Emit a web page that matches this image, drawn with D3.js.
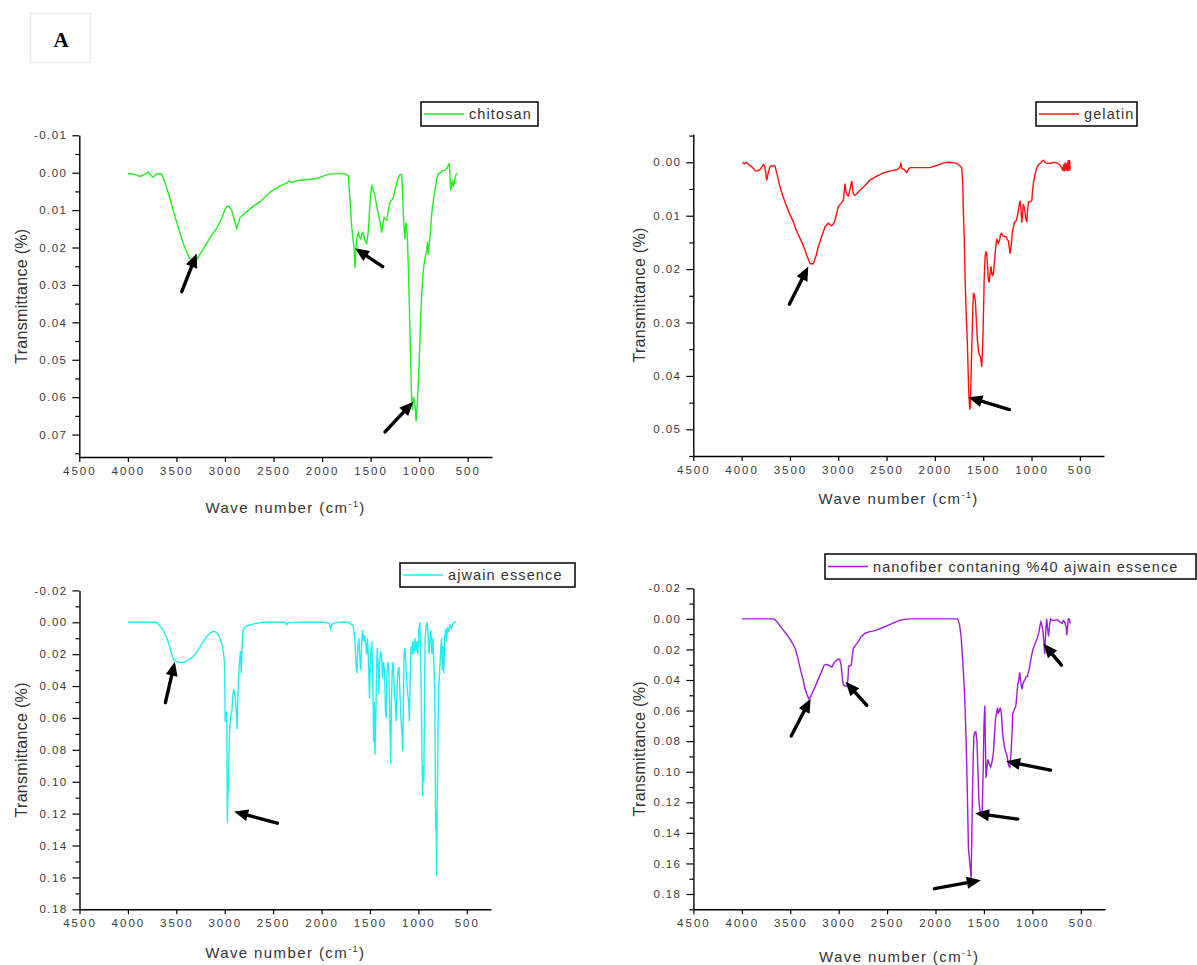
<!DOCTYPE html>
<html>
<head>
<meta charset="utf-8">
<script src="https://cdn.jsdelivr.net/npm/d3@7"></script>
<style>
  html, body { margin: 0; padding: 0; background: #fff; }
  svg { display: block; }
  text { font-family: "Liberation Sans", Arial, sans-serif; }
</style>
</head>
<body>
<svg id="chart" width="1197" height="965"></svg>
<script>
// ---------------- DATA ----------------
const legendLabels = ["chitosan", "gelatin", "ajwain essence", "nanofiber contaning %40 ajwain essence"];
const xTickValues = [4500, 4000, 3500, 3000, 2500, 2000, 1500, 1000, 500];
const xTitle = "Wave number (cm";
const yTitle = "Transmittance (%)";
const panelLetter = "A";

const yTicksChitosan = [-0.01, 0.00, 0.01, 0.02, 0.03, 0.04, 0.05, 0.06, 0.07];
const yTicksGelatin = [0.00, 0.01, 0.02, 0.03, 0.04, 0.05];
const yTicksAjwain = [-0.02, 0.00, 0.02, 0.04, 0.06, 0.08, 0.10, 0.12, 0.14, 0.16, 0.18];
const yTicksNanofiber = [-0.02, 0.00, 0.02, 0.04, 0.06, 0.08, 0.10, 0.12, 0.14, 0.16, 0.18];

// [wave number, transmittance]
const chitosan = [
[4000,0.0003],[3975,0.0002],[3944,0.0004],[3920,0.0006],[3875,0.001],[3840,0.0006],[3810,0.0002],[3789,-0.0002],[3760,0.0008],[3738,0.0012],[3710,0.0004],[3680,0.0002],[3651,0.0004],
[3620,0.0025],[3583,0.0055],[3550,0.0085],[3514,0.0118],[3470,0.0155],[3429,0.0189],[3395,0.021],[3367,0.0229],[3330,0.0234],[3291,0.0233],[3250,0.0215],[3188,0.0189],[3140,0.0168],[3085,0.0149],[3040,0.0125],[3000,0.0098],[2982,0.0091],[2960,0.0089],[2931,0.0100],[2905,0.0125],[2879,0.0149],[2862,0.0135],[2845,0.012],[2776,0.0104],[2700,0.0088],[2639,0.0078],[2570,0.006],[2502,0.0046],[2430,0.0035],[2364,0.0028],[2340,0.0022],[2320,0.0026],[2227,0.002],[2150,0.0018],[2055,0.0016],[1990,0.0009],[1918,0.0003],[1850,0.0003],[1760,0.0003],[1730,0.0008],
[1710,0.008],[1695,0.0144],[1680,0.018],[1671,0.0198],[1661,0.0256],[1650,0.02],[1640,0.017],[1627,0.016],[1615,0.0172],[1603,0.0177],[1590,0.0162],[1580,0.016],[1560,0.018],[1540,0.019],[1525,0.016],[1513,0.011],[1500,0.006],[1489,0.0033],[1470,0.0048],[1455,0.0062],[1440,0.0085],[1421,0.011],[1400,0.0135],[1386,0.016],[1375,0.014],[1362,0.012],[1345,0.0125],[1334,0.0127],[1318,0.010],[1300,0.0079],[1280,0.0072],[1266,0.0066],[1250,0.0048],[1231,0.0027],[1210,0.001],[1197,0.0005],[1180,0.0005],[1170,0.006],[1163,0.0109],[1155,0.0150],[1146,0.0178],[1140,0.0145],[1135,0.0133],[1128,0.0155],[1122,0.017],[1112,0.025],[1101,0.036],[1090,0.048],[1077,0.0608],[1068,0.0635],[1060,0.06],[1050,0.061],[1043,0.062],[1032,0.0664],[1020,0.062],[1009,0.0564],[995,0.047],[985,0.039],[974,0.0325],[960,0.027],[945,0.0235],[930,0.0215],[922,0.021],[915,0.0185],[905,0.022],[895,0.019],[885,0.016],[871,0.011],[855,0.0075],[837,0.0046],[820,0.0018],[803,0.0003],[780,0.0],[760,-0.0006],[734,-0.0007],[715,-0.0012],[700,-0.002],[690,-0.0026],[682,0.001],[675,0.0047],[665,0.003],[655,0.0023],[648,0.0035],[640,0.003],[630,0.0012],[620,0.0005],[605,0.0002]
];

const gelatin = [
[3990,0.0],[3975,0.0003],[3950,0.0],[3930,0.0004],[3900,0.0008],[3875,0.0012],[3861,0.0016],[3840,0.0016],[3810,0.0014],[3790,0.0008],[3775,0.0004],[3760,0.0008],[3740,0.0034],[3725,0.002],[3706,0.0008],[3680,0.0006],[3654,0.0007],[3630,0.0025],[3603,0.0046],[3570,0.0065],[3533,0.0083],[3500,0.0098],[3465,0.0111],[3440,0.0125],[3413,0.0136],[3378,0.0149],[3350,0.0162],[3326,0.0174],[3300,0.0186],[3292,0.019],[3258,0.019],[3230,0.0175],[3206,0.0158],[3170,0.0138],[3137,0.0121],[3103,0.0114],[3085,0.0117],[3068,0.0119],[3050,0.0115],[3033,0.0108],[3015,0.0095],[2999,0.0083],[2970,0.0077],[2947,0.0071],[2938,0.0055],[2930,0.004],[2920,0.0055],[2912,0.006],[2895,0.0063],[2878,0.005],[2861,0.0035],[2852,0.0048],[2843,0.006],[2826,0.0062],[2800,0.0057],[2774,0.0052],[2720,0.0043],[2671,0.0033],[2600,0.0026],[2533,0.002],[2460,0.0016],[2395,0.0014],[2365,0.0010],[2353,0.0003],[2340,0.0012],[2320,0.0013],[2291,0.0019],[2270,0.0012],[2257,0.001],[2150,0.001],[2050,0.001],[1980,0.0006],[1912,0.0001],[1850,0.0],[1800,0.0001],[1773,0.0002],[1745,0.0006],[1722,0.001],[1712,0.004],[1705,0.0093],[1695,0.015],[1687,0.022],[1675,0.029],[1664,0.0339],[1656,0.039],[1649,0.0433],[1642,0.0455],[1636,0.0463],[1628,0.042],[1619,0.035],[1610,0.029],[1601,0.0245],[1590,0.025],[1581,0.026],[1570,0.03],[1560,0.0333],[1548,0.0355],[1540,0.036],[1528,0.0365],[1515,0.0383],[1505,0.034],[1498,0.0289],[1490,0.022],[1480,0.0175],[1472,0.0168],[1464,0.017],[1455,0.0195],[1447,0.022],[1438,0.0225],[1430,0.021],[1420,0.0195],[1410,0.021],[1402,0.0212],[1394,0.0207],[1380,0.018],[1370,0.0158],[1359,0.0143],[1345,0.0152],[1332,0.0147],[1320,0.0135],[1309,0.0133],[1295,0.0138],[1274,0.0139],[1260,0.014],[1250,0.0145],[1240,0.0147],[1230,0.016],[1222,0.0171],[1210,0.0155],[1198,0.013],[1187,0.0121],[1175,0.0112],[1160,0.011],[1140,0.0095],[1128,0.008],[1118,0.0072],[1110,0.0085],[1101,0.0113],[1092,0.0095],[1084,0.0078],[1070,0.009],[1060,0.0105],[1049,0.0112],[1040,0.0088],[1032,0.0075],[1015,0.0074],[997,0.0072],[990,0.0055],[980,0.0038],[960,0.002],[945,0.001],[929,0.0005],[910,0.0002],[890,-0.0002],[877,-0.0004],[860,0.0],[843,0.0002],[800,0.0002],[770,0.0],[738,0.0001],[710,0.0004],[686,0.0011],[675,0.0016],[668,0.0004],[660,0.0017],[652,0.0],[645,0.0015],[638,0.0002],[630,0.0016],[620,-0.0004],[612,0.0016],[605,-0.0004],[601,0.0015]
];

const ajwain = [
[4000,0],[3850,0],[3708,0],[3680,0.0015],[3649,0.0038],[3620,0.007],[3591,0.011],[3570,0.015],[3552,0.0195],[3525,0.0236],[3500,0.0245],[3480,0.025],[3450,0.0252],[3417,0.025],[3380,0.0238],[3338,0.0223],[3300,0.0195],[3261,0.016],[3220,0.012],[3183,0.0087],[3150,0.0068],[3117,0.0056],[3090,0.0062],[3066,0.0077],[3045,0.0105],[3027,0.014],[3015,0.018],[3007,0.0223],[3000,0.03],[2996,0.0623],[2988,0.06],[2980,0.056],[2976,0.09],[2973,0.126],[2968,0.11],[2962,0.10],[2955,0.078],[2947,0.065],[2935,0.058],[2925,0.055],[2915,0.045],[2907,0.042],[2898,0.044],[2890,0.048],[2880,0.058],[2872,0.067],[2865,0.05],[2857,0.034],[2847,0.024],[2837,0.018],[2830,0.032],[2820,0.015],[2810,0.005],[2790,0.003],[2760,0.002],[2700,0.001],[2604,0.0],[2500,0.0],[2383,0.0],[2360,0.0015],[2340,0.0002],[2200,0],[2000,0],[1920,0.0005],[1907,0.004],[1895,0.0015],[1860,0.0002],[1800,0],[1732,0],[1700,0.001],
[1673,0.002],[1655,0.012],[1645,0.025],[1635,0.032],[1625,0.015],[1615,0.01],[1605,0.022],[1595,0.03],[1585,0.012],[1575,0.005],[1565,0.012],[1555,0.008],[1545,0.013],[1535,0.02],[1525,0.01],[1515,0.025],[1505,0.048],[1498,0.03],[1490,0.018],[1480,0.012],[1470,0.04],[1462,0.075],[1455,0.05],[1448,0.083],[1440,0.06],[1432,0.03],[1425,0.016],[1415,0.028],[1408,0.045],[1400,0.025],[1390,0.018],[1380,0.022],[1370,0.035],[1360,0.025],[1350,0.03],[1340,0.055],[1332,0.06],[1325,0.035],[1315,0.025],[1305,0.03],[1295,0.06],[1286,0.089],[1278,0.05],[1270,0.03],[1260,0.025],[1250,0.04],[1240,0.05],[1228,0.062],[1220,0.04],[1210,0.03],[1200,0.028],[1190,0.045],[1180,0.06],[1170,0.07],[1162,0.081],[1155,0.05],[1148,0.02],[1140,0.016],[1130,0.025],[1120,0.038],[1110,0.045],[1100,0.05],[1093,0.062],[1085,0.035],[1075,0.015],[1065,0.02],[1055,0.012],[1045,0.02],[1035,0.01],[1025,0.018],[1015,0.012],[1005,0.02],[995,0.005],[985,0.0],[975,0.025],[965,0.07],[957,0.109],[950,0.09],[944,0.1],[937,0.05],[930,0.01],[920,0.002],[910,0.0],[900,0.008],[890,0.02],[880,0.01],[870,0.005],[860,0.02],[850,0.01],[840,0.025],[830,0.045],[822,0.13],[817,0.12],[812,0.159],[806,0.12],[798,0.07],[790,0.04],[782,0.033],[772,0.02],[762,0.01],[752,0.03],[745,0.015],[738,0.032],[728,0.01],[718,0.004],[708,0.012],[698,0.003],[688,0.006],[675,0.002],[660,0.004],[645,0.001],[627,0.0],[612,0.0]
];

const nanofiber = [
[4000,0],[3800,0],[3669,0],[3640,0.0015],[3609,0.0042],[3570,0.0075],[3530,0.0107],[3490,0.0145],[3449,0.0194],[3420,0.026],[3389,0.0347],[3365,0.04],[3349,0.0456],[3330,0.049],[3310,0.0521],[3290,0.051],[3270,0.048],[3240,0.044],[3210,0.0393],[3180,0.035],[3150,0.0303],[3130,0.0298],[3110,0.03],[3090,0.031],[3069,0.0314],[3050,0.029],[3030,0.0275],[3010,0.0265],[2990,0.0263],[2975,0.03],[2960,0.04],[2950,0.0434],[2930,0.044],[2910,0.0435],[2900,0.035],[2898,0.031],[2870,0.0303],[2860,0.025],[2849,0.0194],[2830,0.0175],[2810,0.016],[2790,0.014],[2770,0.0118],[2730,0.0095],[2690,0.0085],[2650,0.008],[2610,0.0074],[2550,0.0058],[2490,0.0042],[2430,0.0025],[2370,0.001],[2320,0.0003],[2270,0],[2080,0],[1900,0],[1771,0],[1760,0.002],[1751,0.0042],[1735,0.012],[1723,0.0236],[1711,0.0357],[1700,0.05],[1691,0.065],[1680,0.09],[1671,0.115],[1660,0.15],[1653,0.155],[1646,0.16],[1638,0.165],[1632,0.17],[1625,0.14],[1620,0.12],[1612,0.095],[1604,0.077],[1594,0.074],[1584,0.074],[1572,0.08],[1562,0.1],[1551,0.12],[1540,0.126],[1530,0.126],[1518,0.126],[1508,0.1],[1500,0.07],[1491,0.0568],[1485,0.08],[1479,0.104],[1470,0.098],[1459,0.092],[1445,0.095],[1431,0.097],[1418,0.094],[1403,0.088],[1390,0.075],[1380,0.065],[1371,0.062],[1360,0.058],[1352,0.062],[1340,0.06],[1330,0.058],[1320,0.062],[1312,0.07],[1304,0.077],[1290,0.083],[1275,0.087],[1260,0.09],[1245,0.096],[1232,0.097],[1220,0.088],[1210,0.075],[1203,0.0618],[1190,0.06],[1171,0.057],[1160,0.05],[1151,0.043],[1140,0.04],[1131,0.035],[1122,0.04],[1115,0.044],[1107,0.046],[1095,0.042],[1079,0.04],[1065,0.038],[1052,0.0378],[1042,0.035],[1032,0.0327],[1020,0.028],[1011,0.025],[995,0.02],[979,0.0175],[965,0.015],[951,0.0131],[940,0.01],[931,0.0087],[920,0.004],[912,0.002],[902,0.004],[892,0.007],[882,0.015],[872,0.023],[862,0.008],[852,0.0],[843,0.006],[833,0.0115],[822,0.004],[812,0.0],[795,0.001],[773,0.001],[750,0.0005],[733,0.001],[715,0.002],[694,0.003],[680,0.001],[665,0.002],[650,0.006],[644,0.0107],[635,0.004],[628,0.0],[620,0.0],[612,0.002],[605,0.003]
];

// annotation arrows: [tail wave number, tail value, head wave number, head value]
const arrowsChitosan = [[3445,0.0318,3291,0.0216],[1376,0.0251,1661,0.0202],[1352,0.0693,1060,0.0612]];
const arrowsGelatin = [[3506,0.0266,3310,0.0195],[1229,0.0463,1654,0.0440]];
const arrowsAjwain = [[3613,0.0504,3515,0.0247],[2457,0.126,2903,0.1187]];
const arrowsNanofiber = [[3490,0.0766,3289,0.0521],[2710,0.0565,2930,0.0412],[700,0.0303,884,0.0162],[812,0.099,1271,0.0931],[1151,0.131,1591,0.1272],[2011,0.1765,1532,0.171]];

// ---------------- LAYOUT ----------------
const panels = [
  { data: chitosan, label: legendLabels[0], color: "#22ee22", arrows: arrowsChitosan,
    yTicks: yTicksChitosan, yDomain: [-0.01, 0.076], minorStep: 0.005,
    xr: [79.3, 492], yr: [135.3, 457],
    legend: { x: 421, y: 102, w: 117, h: 24 }, yTitleX: 22, xTitleY: 513 },
  { data: gelatin, label: legendLabels[1], color: "#ff1010", arrows: arrowsGelatin,
    yTicks: yTicksGelatin, yDomain: [-0.0053, 0.055], minorStep: 0.005,
    xr: [693.3, 1104], yr: [134, 456],
    legend: { x: 1036, y: 102, w: 101, h: 24 }, yTitleX: 640, xTitleY: 504 },
  { data: ajwain, label: legendLabels[2], color: "#22eeee", arrows: arrowsAjwain,
    yTicks: yTicksAjwain, yDomain: [-0.02, 0.18], minorStep: 0.01,
    xr: [79.5, 491], yr: [590.4, 909.3],
    legend: { x: 400, y: 563, w: 175, h: 24 }, yTitleX: 22, xTitleY: 958 },
  { data: nanofiber, label: legendLabels[3], color: "#a01ad8", arrows: arrowsNanofiber,
    yTicks: yTicksNanofiber, yDomain: [-0.02, 0.19], minorStep: 0.01,
    xr: [693.4, 1105], yr: [588.3, 909.3],
    legend: { x: 825, y: 554, w: 371, h: 25 }, yTitleX: 640, xTitleY: 962 }
];

const svg = d3.select("#chart");

// panel letter box
svg.append("rect").attr("x", 30.5).attr("y", 13.5).attr("width", 60).attr("height", 49)
  .attr("fill", "#fff").attr("stroke", "#ececec").attr("stroke-width", 1.5);
svg.append("text").attr("x", 61).attr("y", 47).attr("text-anchor", "middle")
  .style("font-family", "'Liberation Serif', 'Times New Roman', serif")
  .style("font-weight", "bold").style("font-size", "21px").text(panelLetter);

const fmt = v => (Math.abs(v) < 1e-9 ? 0 : v).toFixed(2);

panels.forEach(p => {
  const g = svg.append("g");
  const x = d3.scaleLinear().domain([4500, 250]).range(p.xr);
  const y = d3.scaleLinear().domain(p.yDomain).range(p.yr);

  // minor y ticks
  const minor = d3.range(Math.ceil(p.yDomain[0] / p.minorStep - 1e-6), Math.floor(p.yDomain[1] / p.minorStep + 1e-6) + 1)
    .map(i => +(i * p.minorStep).toFixed(4))
    .filter(v => !p.yTicks.some(t => Math.abs(t - v) < 1e-6));
  const gMinor = g.append("g").attr("transform", `translate(${p.xr[0]},0)`)
    .call(d3.axisLeft(y).tickValues(minor).tickSize(4).tickSizeOuter(0).tickFormat(""));
  gMinor.select(".domain").remove();
  gMinor.selectAll("line").attr("stroke", "#000").attr("stroke-width", 1.2);

  // major y axis
  const gy = g.append("g").attr("transform", `translate(${p.xr[0]},0)`)
    .call(d3.axisLeft(y).tickValues(p.yTicks).tickSize(7).tickSizeOuter(0).tickPadding(5).tickFormat(fmt));
  gy.select(".domain").attr("stroke", "#000").attr("stroke-width", 1.4);
  gy.selectAll("line").attr("stroke", "#000").attr("stroke-width", 1.2);
  gy.selectAll("text").attr("fill", "#3a3a3a").style("font-size", "11.5px")
    .style("letter-spacing", "1.4px").style("font-family", "'Liberation Sans', Arial, sans-serif");

  // x axis
  const gx = g.append("g").attr("transform", `translate(0,${p.yr[1]})`)
    .call(d3.axisBottom(x).tickValues(xTickValues).tickSize(5).tickSizeOuter(0).tickPadding(5).tickFormat(d3.format("d")));
  gx.select(".domain").attr("stroke", "#000").attr("stroke-width", 1.4);
  gx.selectAll("line").attr("stroke", "#000").attr("stroke-width", 1.2);
  gx.selectAll("text").attr("fill", "#3a3a3a").style("font-size", "11.5px")
    .style("letter-spacing", "2px").style("font-family", "'Liberation Sans', Arial, sans-serif");

  // spectrum line
  const line = d3.line().x(d => x(d[0])).y(d => y(d[1]));
  g.append("path").datum(p.data).attr("d", line)
    .attr("fill", "none").attr("stroke", p.color).attr("stroke-width", 1.4)
    .attr("stroke-linejoin", "miter");

  // arrows
  p.arrows.forEach(a => {
    const tx = x(a[0]), ty = y(a[1]), hx = x(a[2]), hy = y(a[3]);
    const dx = hx - tx, dy = hy - ty, len = Math.hypot(dx, dy);
    const ux = dx / len, uy = dy / len, px = -uy, py = ux;
    const hl = 14, hw = 6;
    const bx = hx - ux * hl, by = hy - uy * hl;
    g.append("line").attr("x1", tx).attr("y1", ty).attr("x2", bx + ux * 2).attr("y2", by + uy * 2)
      .attr("stroke", "#000").attr("stroke-width", 3.4).attr("stroke-linecap", "round");
    g.append("path")
      .attr("d", `M${hx},${hy}L${bx + px * hw},${by + py * hw}L${bx - px * hw},${by - py * hw}Z`)
      .attr("fill", "#000");
  });

  // legend
  const L = p.legend;
  g.append("rect").attr("x", L.x).attr("y", L.y).attr("width", L.w).attr("height", L.h)
    .attr("fill", "#fff").attr("stroke", "#111").attr("stroke-width", 1.6);
  g.append("line").attr("x1", L.x + 3).attr("x2", L.x + 43).attr("y1", L.y + L.h / 2).attr("y2", L.y + L.h / 2)
    .attr("stroke", p.color).attr("stroke-width", 1.5);
  g.append("text").attr("x", L.x + 48).attr("y", L.y + L.h / 2 + 5)
    .attr("fill", "#333").style("font-size", "14.5px").style("letter-spacing", "1.1px").text(p.label);

  // axis titles
  const yc = (p.yr[0] + p.yr[1]) / 2;
  g.append("text").attr("transform", `translate(${p.yTitleX + 5},${yc}) rotate(-90)`)
    .attr("text-anchor", "middle").attr("fill", "#333").style("font-size", "16px")
    .style("letter-spacing", "0.3px").text(yTitle);
  const xc = (p.xr[0] + p.xr[1]) / 2;
  const xt = g.append("text").attr("x", xc).attr("y", p.xTitleY).attr("text-anchor", "middle")
    .attr("fill", "#333").style("font-size", "15px").style("letter-spacing", "1.4px");
  xt.append("tspan").text(xTitle);
  xt.append("tspan").attr("dy", -6).style("font-size", "9px").text("-1");
  xt.append("tspan").attr("dy", 6).text(")");
});
</script>
</body>
</html>
